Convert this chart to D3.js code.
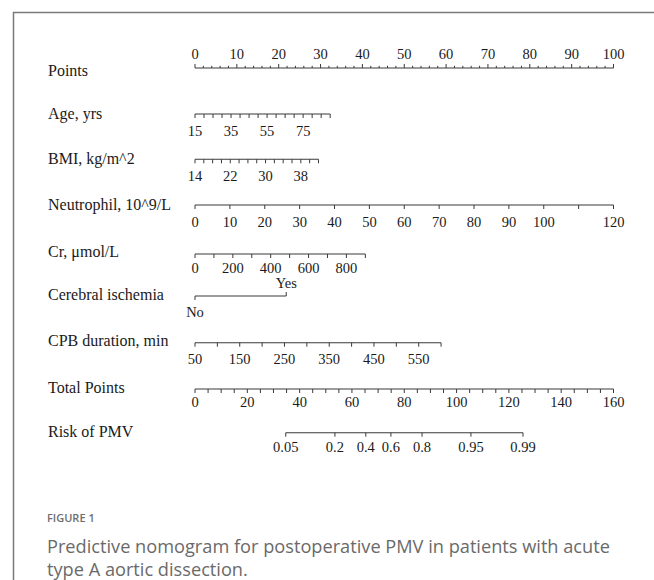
<!DOCTYPE html>
<html>
<head>
<meta charset="utf-8">
<script src="https://cdn.jsdelivr.net/npm/d3@7"></script>
<style>
  html, body { margin: 0; padding: 0; background: #fff; }
  svg { display: block; }
</style>
</head>
<body>
<svg id="chart" width="654" height="580"></svg>
<script>
// ---- Nomogram data ----
// Points scale
const pointsTicks = [0, 10, 20, 30, 40, 50, 60, 70, 80, 90, 100];
const pointsMinorStep = 2;

// Age, yrs: value range and the points reached at its maximum
const ageRange = [15, 90];
const ageMaxPoints = 32.3;
const ageTickStep = 5;
const ageLabels = [15, 35, 55, 75];

// BMI, kg/m^2
const bmiRange = [14, 42];
const bmiMaxPoints = 29.5;
const bmiTickStep = 2;
const bmiLabels = [14, 22, 30, 38];

// Neutrophil, 10^9/L
const neutRange = [0, 120];
const neutMaxPoints = 100;
const neutTickStep = 10;
const neutLabels = [0, 10, 20, 30, 40, 50, 60, 70, 80, 90, 100, 120];

// Cr, µmol/L
const crRange = [0, 900];
const crMaxPoints = 40.7;
const crTickStep = 100;
const crLabels = [0, 200, 400, 600, 800];

// Cerebral ischemia (categorical)
const ischemiaLevels = ["No", "Yes"];
const ischemiaPoints = [0, 21.8];

// CPB duration, min
const cpbRange = [50, 600];
const cpbMaxPoints = 58.8;
const cpbTickStep = 50;
const cpbLabels = [50, 150, 250, 350, 450, 550];

// Total Points
const totalTicks = [0, 20, 40, 60, 80, 100, 120, 140, 160];
const totalMinorStep = 5;

// Risk of PMV and the total points at which each risk is reached
const riskTicks = [0.05, 0.2, 0.4, 0.6, 0.8, 0.95, 0.99];
const riskTotalPoints = [34.7, 53.5, 65.3, 74.9, 86.8, 105.5, 125.4];

// Row names
const rowNames = ["Points", "Age, yrs", "BMI, kg/m^2", "Neutrophil, 10^9/L", "Cr, \u03bcmol/L",
  "Cerebral ischemia", "CPB duration, min", "Total Points", "Risk of PMV"];

// ---- Layout ----
const rowNameY = [70, 113, 158, 204, 251, 294, 340, 387, 431];
const lineY =    [68, 114, 159.3, 205, 254, 296, 342.7, 389, 432.7];
const labelY =   [54, 130.5, 176, 221.5, 267.5, 0, 358.5, 402, 447];
const x0 = 195, x1 = 613.5;

const svg = d3.select("#chart");
const serif = "'Liberation Serif', 'Times New Roman', serif";
const axisColor = "#3a3a3a";
const textColor = "#1a1a1a";

// Frame lines (top and left)
svg.append("path")
  .attr("d", "M13.5,580 V12.5 H654")
  .attr("fill", "none").attr("stroke", "#7a7a7a").attr("stroke-width", 1.5);

const xPoints = d3.scaleLinear().domain([0, 100]).range([x0, x1]);
const xTotal = d3.scaleLinear().domain([0, 160]).range([x0, x1]);

// Row names
svg.append("g").selectAll("text").data(rowNames).join("text")
  .attr("x", 48).attr("y", (d, i) => rowNameY[i]).attr("dy", "0.35em")
  .attr("font-family", serif).attr("font-size", 16).attr("fill", textColor)
  .text(d => d);

// Generic axis builder: ticks (values), labelled values, mapping function into x pixels
function drawAxis(row, ticks, labels, toX, opts = {}) {
  const up = opts.up || false;
  const g = svg.append("g");
  const y = lineY[row];
  const xs = ticks.map(toX);
  g.append("line")
    .attr("x1", d3.min(xs)).attr("x2", d3.max(xs))
    .attr("y1", y).attr("y2", y)
    .attr("stroke", axisColor).attr("stroke-width", 1.1);
  const majorSet = new Set(opts.major || labels);
  g.selectAll("line.tick").data(ticks).join("line")
    .attr("class", "tick")
    .attr("x1", d => toX(d)).attr("x2", d => toX(d))
    .attr("y1", y)
    .attr("y2", d => {
      const len = majorSet.has(d) || !opts.minorShort ? 4 : 2.2;
      return up ? y - len : y + len;
    })
    .attr("stroke", axisColor).attr("stroke-width", 1);
  g.selectAll("text").data(labels).join("text")
    .attr("x", d => toX(d)).attr("y", labelY[row]).attr("dy", "0.35em")
    .attr("text-anchor", "middle")
    .attr("font-family", serif).attr("font-size", 14.5).attr("fill", textColor)
    .text(d => opts.format ? opts.format(d) : d);
}

// Points row
drawAxis(0, d3.range(0, 100 + 1e-9, pointsMinorStep), pointsTicks, xPoints,
  { up: true, minorShort: true });

// Continuous predictors
function variableScale(range, maxPts) {
  const toPts = d3.scaleLinear().domain(range).range([0, maxPts]);
  return v => xPoints(toPts(v));
}
drawAxis(1, d3.range(ageRange[0], ageRange[1] + 1e-9, ageTickStep), ageLabels,
  variableScale(ageRange, ageMaxPoints), { major: d3.range(ageRange[0], ageRange[1] + 1, ageTickStep) });
drawAxis(2, d3.range(bmiRange[0], bmiRange[1] + 1e-9, bmiTickStep), bmiLabels,
  variableScale(bmiRange, bmiMaxPoints), { major: d3.range(bmiRange[0], bmiRange[1] + 1, bmiTickStep) });
drawAxis(3, d3.range(neutRange[0], neutRange[1] + 1e-9, neutTickStep), neutLabels,
  variableScale(neutRange, neutMaxPoints), { major: d3.range(neutRange[0], neutRange[1] + 1, neutTickStep) });
drawAxis(4, d3.range(crRange[0], crRange[1] + 1e-9, crTickStep), crLabels,
  variableScale(crRange, crMaxPoints), { major: d3.range(crRange[0], crRange[1] + 1, crTickStep) });
drawAxis(6, d3.range(cpbRange[0], cpbRange[1] + 1e-9, cpbTickStep), cpbLabels,
  variableScale(cpbRange, cpbMaxPoints), { major: d3.range(cpbRange[0], cpbRange[1] + 1, cpbTickStep) });

// Cerebral ischemia: No below the line, Yes above
{
  const y = lineY[5];
  const g = svg.append("g");
  const xs = ischemiaPoints.map(xPoints);
  g.append("line").attr("x1", xs[0]).attr("x2", xs[1]).attr("y1", y).attr("y2", y)
    .attr("stroke", axisColor).attr("stroke-width", 1.1);
  const dirs = [1, -1];
  const labelCenters = [312, 282.5];
  ischemiaLevels.forEach((lvl, i) => {
    g.append("line").attr("x1", xs[i]).attr("x2", xs[i])
      .attr("y1", y).attr("y2", y + 4 * dirs[i])
      .attr("stroke", axisColor).attr("stroke-width", 1);
    g.append("text").attr("x", xs[i]).attr("y", labelCenters[i]).attr("dy", "0.35em")
      .attr("text-anchor", "middle").attr("font-family", serif).attr("font-size", 14.5)
      .attr("fill", textColor).text(lvl);
  });
}

// Total Points row
drawAxis(7, d3.range(0, 160 + 1e-9, totalMinorStep), totalTicks, xTotal);

// Risk row
{
  const riskX = d => xTotal(riskTotalPoints[riskTicks.indexOf(d)]);
  drawAxis(8, riskTicks, riskTicks, riskX, { format: d => String(d) });
}

// Caption
const sans = "'Open Sans', 'Noto Sans', sans-serif";
svg.append("text").attr("x", 47).attr("y", 522)
  .attr("font-family", sans).attr("font-size", 11).attr("font-weight", 600)
  .attr("fill", "#6e6e6e").text("FIGURE 1");
const captionLines = ["Predictive nomogram for postoperative PMV in patients with acute",
  "type A aortic dissection."];
svg.append("g").selectAll("text").data(captionLines).join("text")
  .attr("x", 47).attr("y", (d, i) => 553 + i * 22.5)
  .attr("font-family", sans).attr("font-size", 18.2).attr("fill", "#6a6a6a")
  .text(d => d);
</script>
</body>
</html>
